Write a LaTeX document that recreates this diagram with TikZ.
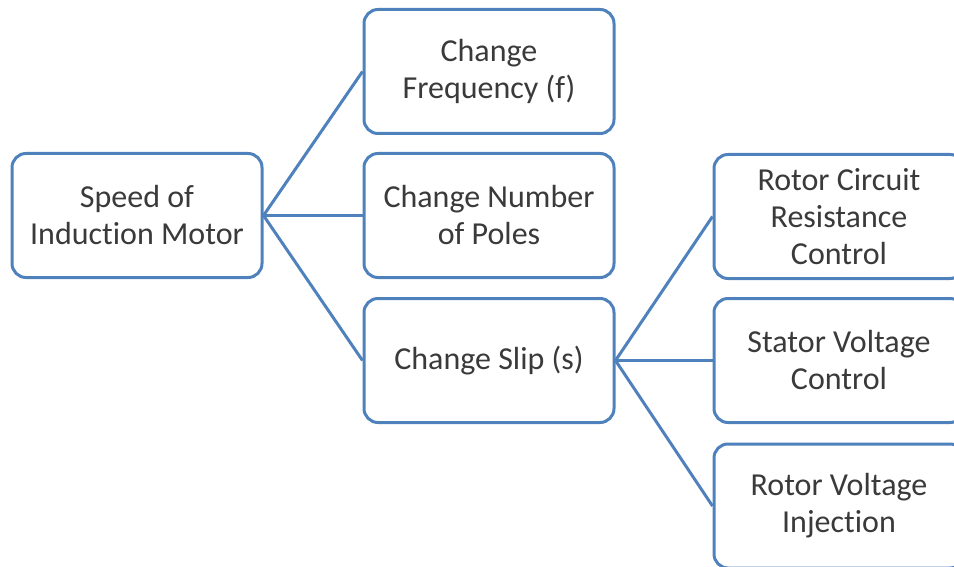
\documentclass[tikz,border=0pt]{standalone}
\usepackage{fontspec}
\setmainfont[Ligatures=NoCommon]{Carlito}
\definecolor{boxblue}{HTML}{4F81BD}
\definecolor{txt}{HTML}{3A3A3A}
\begin{document}
\begin{tikzpicture}[x=1pt,y=-1pt,
  box/.style={draw=boxblue, line width=3pt, rounded corners=14pt, fill=white,
    minimum width=250pt, minimum height=124pt, align=center, text=txt,
    font=\fontsize{32}{37}\selectfont, inner sep=2pt},
  conn/.style={draw=boxblue, line width=3pt}]
\useasboundingbox (0,0) rectangle (954,567);
\clip (0,0) rectangle (954,567);
\node[box] (root) at (137,215.5) {Speed of\\Induction Motor};
\node[box] (freq) at (489,71.5) {Change\\Frequency (f)};
\node[box] (poles) at (489,215.5) {Change Number\\of Poles};
\node[box] (slip) at (489,360.5) {Change Slip (s)};
\node[box] (rcr) at (839,216.5) {Rotor Circuit\\Resistance\\Control};
\node[box] (svc) at (839,360.5) {Stator Voltage\\Control};
\node[box] (rvi) at (839,506) {Rotor Voltage\\Injection};
\draw[conn] (root.east) -- (freq.west);
\draw[conn] (root.east) -- (poles.west);
\draw[conn] (root.east) -- (slip.west);
\draw[conn] (slip.east) -- (rcr.west);
\draw[conn] (slip.east) -- (svc.west);
\draw[conn] (slip.east) -- (rvi.west);
\end{tikzpicture}
\end{document}
